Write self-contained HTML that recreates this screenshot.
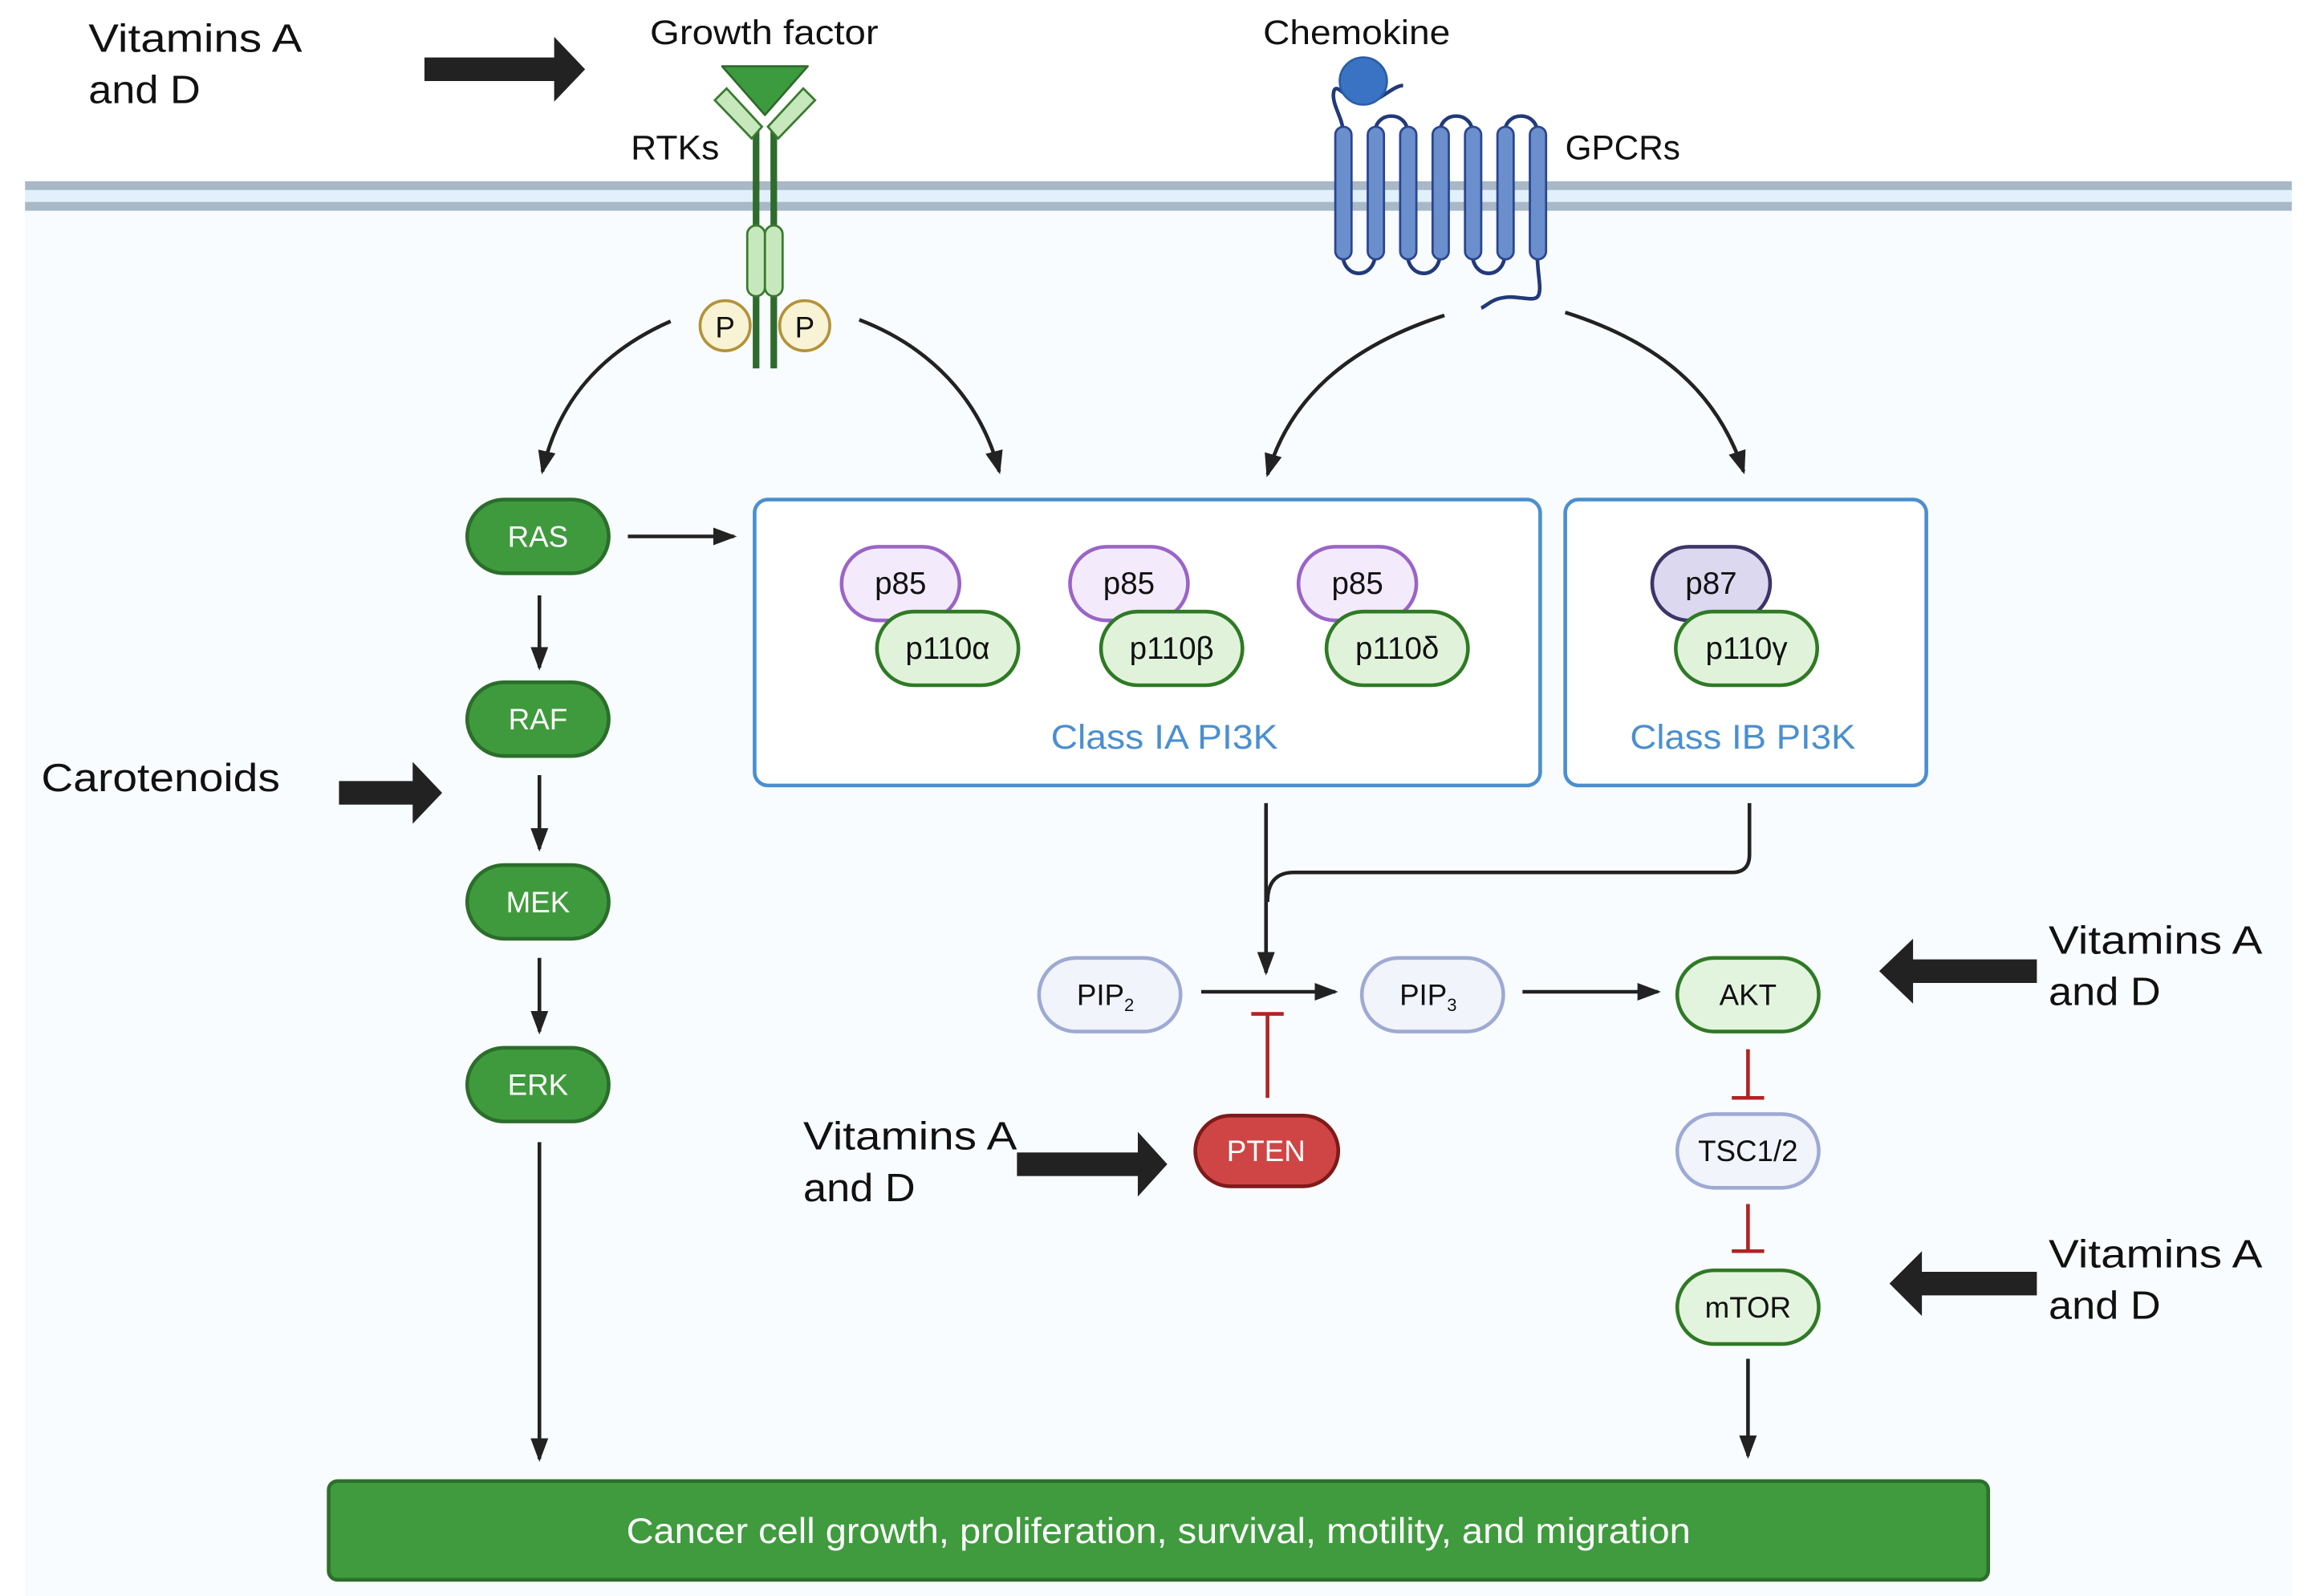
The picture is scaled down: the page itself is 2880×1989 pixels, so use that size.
<!DOCTYPE html>
<html><head><meta charset="utf-8"><style>
html,body{margin:0;padding:0;background:#fff}
svg{display:block}
text{font-family:"Liberation Sans",sans-serif}
</style></head><body>
<svg width="2880" height="1989" viewBox="0 0 1568 1083" preserveAspectRatio="none" xmlns="http://www.w3.org/2000/svg">
<defs>
<marker id="ah" markerUnits="userSpaceOnUse" markerWidth="16" markerHeight="16" viewBox="0 0 16 16" refX="14" refY="8" orient="auto"><path d="M0,2 L16,8 L0,14 Z" fill="#222"/></marker>
</defs>
<rect width="1568" height="1083" fill="#fff"/>
<rect x="17" y="140" width="1538" height="943" fill="#f9fcfe"/>
<rect x="17" y="123" width="1538" height="6" fill="#a9b8c6"/>
<rect x="17" y="129" width="1538" height="8" fill="#e2f0fb"/>
<rect x="17" y="137" width="1538" height="6" fill="#a9b8c6"/>

<text x="60" y="35" font-size="27" fill="#111" textLength="145" lengthAdjust="spacingAndGlyphs">Vitamins A</text>
<text x="60" y="70" font-size="27" fill="#111" textLength="76" lengthAdjust="spacingAndGlyphs">and D</text>
<path d="M288,39 H376 V25 L397,47 L376,69 V55 H288 Z" fill="#222"/>

<text x="441" y="30" font-size="23" fill="#111" textLength="155" lengthAdjust="spacingAndGlyphs">Growth factor</text>
<text x="428" y="108" font-size="23" fill="#111" textLength="60" lengthAdjust="spacingAndGlyphs">RTKs</text>
<line x1="513" y1="88" x2="513" y2="250" stroke="#2f6b2c" stroke-width="4.5"/>
<line x1="525" y1="88" x2="525" y2="250" stroke="#2f6b2c" stroke-width="4.5"/>
<path d="M485,68 L493,60 L517,86 L510,94 Z" fill="#c7e8bd" stroke="#3b7a31" stroke-width="1.5"/>
<path d="M553,68 L545,60 L521,86 L528,94 Z" fill="#c7e8bd" stroke="#3b7a31" stroke-width="1.5"/>
<path d="M490,45 L548,45 L519,78 Z" fill="#3d9b3f" stroke="#2f6b2c" stroke-width="1.5" stroke-linejoin="round"/>
<rect x="507" y="153" width="12" height="48" rx="6" fill="#c7e8bd" stroke="#3b7a31" stroke-width="1.5"/>
<rect x="519" y="153" width="12" height="48" rx="6" fill="#c7e8bd" stroke="#3b7a31" stroke-width="1.5"/>
<circle cx="492" cy="221" r="17" fill="#f7f3d4" stroke="#b4923a" stroke-width="2"/>
<circle cx="546" cy="221" r="17" fill="#f7f3d4" stroke="#b4923a" stroke-width="2"/>
<text x="492" y="229" font-size="20" text-anchor="middle" fill="#111">P</text>
<text x="546" y="229" font-size="20" text-anchor="middle" fill="#111">P</text>

<text x="857" y="30" font-size="23" fill="#111" textLength="127" lengthAdjust="spacingAndGlyphs">Chemokine</text>
<text x="1062" y="108" font-size="23" fill="#111" textLength="78" lengthAdjust="spacingAndGlyphs">GPCRs</text>
<g fill="none" stroke="#22397a" stroke-width="2.5">
<path d="M911,88 C911,80 903,70 905,62 C907,55 915,70 925,70 C935,70 945,58 952,58"/>
<path d="M933,90 C933,75 955,75 955,90"/>
<path d="M977,90 C977,75 999,75 999,90"/>
<path d="M1021,90 C1021,75 1043,75 1043,90"/>
<path d="M911,172 C911,190 933,190 933,172"/>
<path d="M955,172 C955,190 977,190 977,172"/>
<path d="M999,172 C999,190 1021,190 1021,172"/>
<path d="M1043,172 C1043,185 1046,195 1044,200 C1042,206 1030,200 1020,202 C1012,203 1008,208 1005,209"/>
</g>
<circle cx="925" cy="55" r="16" fill="#3a73c4" stroke="#2b5ea8" stroke-width="1.5"/>
<g fill="#6b8fcd" stroke="#2b4690" stroke-width="1.5">
<rect x="906" y="86" width="11" height="90" rx="5.5"/>
<rect x="928" y="86" width="11" height="90" rx="5.5"/>
<rect x="950" y="86" width="11" height="90" rx="5.5"/>
<rect x="972" y="86" width="11" height="90" rx="5.5"/>
<rect x="994" y="86" width="11" height="90" rx="5.5"/>
<rect x="1016" y="86" width="11" height="90" rx="5.5"/>
<rect x="1038" y="86" width="11" height="90" rx="5.5"/>
</g>

<g fill="none" stroke="#222" stroke-width="2.5" marker-end="url(#ah)">
<path d="M455,218 C405,240 378,275 368,320"/>
<path d="M583,217 C630,235 665,270 678,320"/>
<path d="M980,214 C915,235 875,270 860,322"/>
<path d="M1062,212 C1125,232 1165,265 1183,320"/>
</g>

<g stroke="#2b6e2b" stroke-width="2.5" fill="#3f9a3d">
<rect x="317" y="339" width="96" height="50" rx="25"/>
<rect x="317" y="463" width="96" height="50" rx="25"/>
<rect x="317" y="587" width="96" height="50" rx="25"/>
<rect x="317" y="711" width="96" height="50" rx="25"/>
</g>
<g font-size="20" fill="#fff" text-anchor="middle">
<text x="365" y="371">RAS</text>
<text x="365" y="495">RAF</text>
<text x="365" y="619">MEK</text>
<text x="365" y="743">ERK</text>
</g>
<g stroke="#222" stroke-width="2.5" marker-end="url(#ah)">
<line x1="426" y1="364" x2="498" y2="364"/>
<line x1="366" y1="404" x2="366" y2="453"/>
<line x1="366" y1="526" x2="366" y2="576"/>
<line x1="366" y1="650" x2="366" y2="700"/>
<line x1="366" y1="775" x2="366" y2="990"/>
</g>

<text x="28" y="537" font-size="27" fill="#111" textLength="162" lengthAdjust="spacingAndGlyphs">Carotenoids</text>
<path d="M230,530 H280 V517 L300,538 L280,559 V546 H230 Z" fill="#222"/>

<rect x="512" y="339" width="533" height="194" rx="9" fill="#fff" stroke="#4a8fd0" stroke-width="2.5"/>
<rect x="1062" y="339" width="245" height="194" rx="9" fill="#fff" stroke="#4a8fd0" stroke-width="2.5"/>
<g fill="#f3ebfb" stroke="#9a64c8" stroke-width="2.5">
<rect x="571" y="371" width="80" height="50" rx="25"/>
<rect x="726" y="371" width="80" height="50" rx="25"/>
<rect x="881" y="371" width="80" height="50" rx="25"/>
</g>
<rect x="1121" y="371" width="80" height="50" rx="25" fill="#dcd8ef" stroke="#3c3568" stroke-width="2.5"/>
<g fill="#e0f3da" stroke="#2f7a25" stroke-width="2.5">
<rect x="595" y="415" width="96" height="50" rx="25"/>
<rect x="747" y="415" width="96" height="50" rx="25"/>
<rect x="900" y="415" width="96" height="50" rx="25"/>
<rect x="1137" y="415" width="96" height="50" rx="25"/>
</g>
<g font-size="21" fill="#111" text-anchor="middle">
<text x="611" y="403">p85</text>
<text x="766" y="403">p85</text>
<text x="921" y="403">p85</text>
<text x="1161" y="403">p87</text>
<text x="643" y="447">p110α</text>
<text x="795" y="447">p110β</text>
<text x="948" y="447">p110δ</text>
<text x="1185" y="447">p110γ</text>
</g>
<text x="713" y="508" font-size="23" fill="#4a8fd0" textLength="154" lengthAdjust="spacingAndGlyphs">Class IA PI3K</text>
<text x="1106" y="508" font-size="23" fill="#4a8fd0" textLength="153" lengthAdjust="spacingAndGlyphs">Class IB PI3K</text>

<path d="M859,545 V660" fill="none" stroke="#222" stroke-width="2.5" marker-end="url(#ah)"/>
<path d="M1187,545 V580 Q1187,592 1175,592 H878 Q860,592 860,612" fill="none" stroke="#222" stroke-width="2.5"/>

<g fill="#f2f4fc" stroke="#9eaad4" stroke-width="2.5">
<rect x="705" y="650" width="96" height="50" rx="25"/>
<rect x="924" y="650" width="96" height="50" rx="25"/>
<rect x="1138" y="756" width="96" height="50" rx="25"/>
</g>
<g fill="#e3f4de" stroke="#2f7a25" stroke-width="2.5">
<rect x="1138" y="650" width="96" height="50" rx="25"/>
<rect x="1138" y="862" width="96" height="50" rx="25"/>
</g>
<g font-size="20" fill="#111" text-anchor="middle">
<text x="750" y="682">PIP<tspan font-size="12" dy="4">2</tspan></text>
<text x="969" y="682">PIP<tspan font-size="12" dy="4">3</tspan></text>
<text x="1186" y="682">AKT</text>
<text x="1186" y="788">TSC1/2</text>
<text x="1186" y="894">mTOR</text>
</g>
<g stroke="#222" stroke-width="2.5" marker-end="url(#ah)">
<line x1="815" y1="673" x2="906" y2="673"/>
<line x1="1033" y1="673" x2="1125" y2="673"/>
<line x1="1186" y1="922" x2="1186" y2="988"/>
</g>
<g stroke="#b22222" stroke-width="2.5">
<line x1="860" y1="745" x2="860" y2="688"/><line x1="849" y1="688" x2="871" y2="688"/>
<line x1="1186" y1="712" x2="1186" y2="745"/><line x1="1175" y1="745" x2="1197" y2="745"/>
<line x1="1186" y1="817" x2="1186" y2="849"/><line x1="1175" y1="849" x2="1197" y2="849"/>
</g>
<rect x="811" y="757" width="97" height="48" rx="24" fill="#cf4545" stroke="#7e1a1a" stroke-width="2.5"/>
<text x="859" y="788" font-size="20" fill="#fff" text-anchor="middle">PTEN</text>

<text x="545" y="780" font-size="27" fill="#111" textLength="145" lengthAdjust="spacingAndGlyphs">Vitamins A</text>
<text x="545" y="815" font-size="27" fill="#111" textLength="76" lengthAdjust="spacingAndGlyphs">and D</text>
<path d="M690,782 H772 V768 L792,790 L772,812 V798 H690 Z" fill="#222"/>

<text x="1390" y="647" font-size="27" fill="#111" textLength="145" lengthAdjust="spacingAndGlyphs">Vitamins A</text>
<text x="1390" y="682" font-size="27" fill="#111" textLength="76" lengthAdjust="spacingAndGlyphs">and D</text>
<path d="M1382,651 H1298 V637 L1275,659 L1298,681 V667 H1382 Z" fill="#222"/>
<text x="1390" y="860" font-size="27" fill="#111" textLength="145" lengthAdjust="spacingAndGlyphs">Vitamins A</text>
<text x="1390" y="895" font-size="27" fill="#111" textLength="76" lengthAdjust="spacingAndGlyphs">and D</text>
<path d="M1382,863 H1304 V849 L1282,871 L1304,893 V879 H1382 Z" fill="#222"/>

<rect x="223" y="1005" width="1126" height="67" rx="6" fill="#3f9b3e" stroke="#2d6f2a" stroke-width="2.5"/>
<text x="425" y="1047" font-size="24" fill="#fff" textLength="722" lengthAdjust="spacingAndGlyphs">Cancer cell growth, proliferation, survival, motility, and migration</text>
</svg>
</body></html>
